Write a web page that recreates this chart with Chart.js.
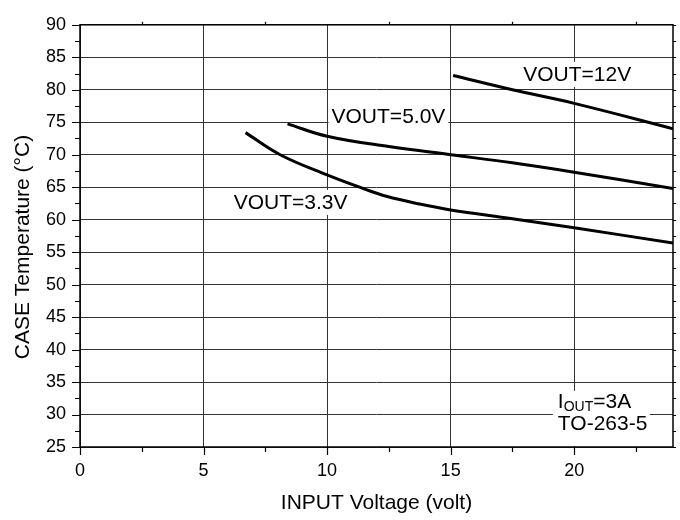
<!DOCTYPE html>
<html>
<head>
<meta charset="utf-8">
<script src="https://cdn.jsdelivr.net/npm/chart.js@4.4.1/dist/chart.umd.min.js"></script>
<style>
  html, body { margin: 0; background: #fff; }
  #wrap { width: 680px; height: 520px; }
</style>
</head>
<body>
<div id="wrap"><canvas id="chart"></canvas></div>
<script>
// curves
const vin33 = [6.7, 8.1, 10, 11.5, 12.4, 13.75, 15, 17.5, 20, 24];
const temp33 = [73.4, 70.0, 66.9, 64.75, 63.6, 62.4, 61.5, 60.15, 58.75, 56.4];
const vin50 = [8.4, 10, 12.5, 15, 17.5, 20, 24];
const temp50 = [74.75, 72.85, 71.25, 70.0, 68.75, 67.3, 64.8];
const vin12 = [15.1, 17.5, 20, 24];
const temp12 = [82.2, 80.0, 77.9, 74.0];

const xTitle = 'INPUT Voltage (volt)';
const yTitle = 'CASE Temperature (°C)';

// text labels placed in data units (left edge, middle)
const notes = [
    { text: 'VOUT=12V', x: 17.94, y: 82.43 },
    { text: 'VOUT=5.0V', x: 10.18, y: 75.94 },
    { text: 'VOUT=3.3V', x: 6.22, y: 62.73 }
];

const FONT = '"Liberation Sans", Arial, Helvetica, sans-serif';

function toPoints(xs, ys) {
    return xs.map((x, i) => ({ x: x, y: ys[i] }));
}

function curve(xs, ys) {
    return {
        data: toPoints(xs, ys),
        borderColor: '#000',
        borderWidth: 3,
        pointRadius: 0,
        fill: false,
        tension: 0.4
    };
}

const decorations = {
    id: 'decorations',
    afterDraw(chart) {
        const ctx = chart.ctx;
        const a = chart.chartArea;
        const sx = chart.scales.x;
        const sy = chart.scales.y;
        ctx.save();

        // frame
        ctx.strokeStyle = '#000';
        ctx.lineWidth = 1.5;
        ctx.strokeRect(a.left, a.top, a.right - a.left, a.bottom - a.top);

        // tick marks
        ctx.lineWidth = 1.2;
        ctx.beginPath();
        for (let v = 0; v <= 24; v += 2.5) {
            const px = Math.round(sx.getPixelForValue(v)) + 0.5;
            const major = v % 5 === 0;
            ctx.moveTo(px, a.bottom);
            ctx.lineTo(px, a.bottom + (major ? 8 : 5));
            if (!major) {
                ctx.moveTo(px, a.top);
                ctx.lineTo(px, a.top - 3);
            }
        }
        for (let v = 25; v <= 90; v += 2.5) {
            const py = Math.round(sy.getPixelForValue(v)) + 0.5;
            const major = v % 5 === 0;
            ctx.moveTo(a.left, py);
            ctx.lineTo(a.left - (major ? 8 : 5), py);
            ctx.moveTo(a.right, py);
            ctx.lineTo(a.right + 3, py);
        }
        ctx.stroke();

        // curve labels with white boxes
        ctx.font = '21px ' + FONT;
        ctx.textBaseline = 'middle';
        ctx.textAlign = 'left';
        notes.forEach(n => {
            const px = sx.getPixelForValue(n.x);
            const py = sy.getPixelForValue(n.y);
            const w = ctx.measureText(n.text).width;
            ctx.fillStyle = '#fff';
            ctx.fillRect(px - 3, py - 12, w + 6, 25);
            ctx.fillStyle = '#000';
            ctx.fillText(n.text, px, py + 1);
        });

        // I_OUT=3A / TO-263-5 box
        const bx = sx.getPixelForValue(19.34);
        const by1 = sy.getPixelForValue(31.95);
        const by2 = sy.getPixelForValue(28.48);
        ctx.fillStyle = '#fff';
        ctx.fillRect(bx - 5, by1 - 11, 97, a.bottom - (by1 - 11) - 1);
        ctx.fillStyle = '#000';
        ctx.font = '21px ' + FONT;
        ctx.fillText('I', bx, by1);
        let cx = bx + ctx.measureText('I').width;
        ctx.font = '14px ' + FONT;
        ctx.fillText('OUT', cx, by1 + 5);
        cx += ctx.measureText('OUT').width;
        ctx.font = '21px ' + FONT;
        ctx.fillText('=3A', cx, by1);
        ctx.fillText('TO-263-5', bx, by2);

        // axis titles
        ctx.textAlign = 'center';
        ctx.fillText(xTitle, (a.left + a.right) / 2, 503);
        ctx.translate(23, 247);
        ctx.rotate(-Math.PI / 2);
        ctx.fillText(yTitle, 0, 0);

        ctx.restore();
    }
};

new Chart(document.getElementById('chart'), {
    type: 'line',
    data: {
        datasets: [curve(vin33, temp33), curve(vin50, temp50), curve(vin12, temp12)]
    },
    options: {
        responsive: true,
        maintainAspectRatio: false,
        animation: false,
        layout: { padding: { top: 13, right: 7, bottom: 0, left: 0 } },
        plugins: {
            legend: { display: false },
            tooltip: { enabled: false }
        },
        scales: {
            x: {
                type: 'linear',
                min: 0,
                max: 24,
                afterFit: s => { s.height = 73; },
                grid: { color: '#333', lineWidth: 1, drawTicks: false },
                border: { display: false },
                ticks: {
                    stepSize: 5,
                    includeBounds: false,
                    padding: 13,
                    color: '#000',
                    font: { family: FONT, size: 18 },
                    maxRotation: 0
                }
            },
            y: {
                type: 'linear',
                min: 25,
                max: 90,
                afterFit: s => { s.width = 80; },
                grid: { color: '#333', lineWidth: 1, drawTicks: false },
                border: { display: false },
                ticks: {
                    stepSize: 5,
                    padding: 14,
                    color: '#000',
                    font: { family: FONT, size: 18 }
                }
            }
        }
    },
    plugins: [decorations]
});
</script>
</body>
</html>
